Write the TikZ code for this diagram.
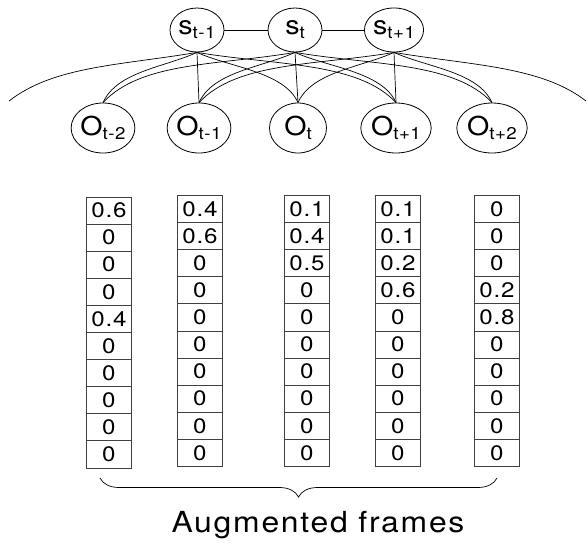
\documentclass[tikz,border=0pt]{standalone}
\usepackage{fontspec}
\usetikzlibrary{shapes.geometric,decorations.pathreplacing}
\newfontfamily\hvf[FakeStretch=1.1,LetterSpace=3]{TeX Gyre Heros}
\newfontfamily\cellfont[FakeStretch=1.15,LetterSpace=4]{TeX Gyre Heros}
\newfontfamily\augfont[FakeStretch=1.1,LetterSpace=6]{TeX Gyre Heros}
\newcommand{\nlab}[2]{{\fontsize{26}{26}\selectfont #1}\raisebox{-4pt}{\fontsize{17}{17}\selectfont #2}}
\begin{document}
\begin{tikzpicture}[x=1pt,y=-1pt,
  every node/.style={font=\hvf},
  snode/.style={draw, ellipse, line width=0.8pt, minimum width=54pt, minimum height=44pt, inner sep=0pt},
  onode/.style={draw, ellipse, line width=0.8pt, minimum width=57pt, minimum height=50pt, inner sep=0pt},
  link/.style={line width=0.7pt},
  cell/.style={draw=black!75, line width=0.9pt, rectangle, minimum width=45pt, minimum height=27.1pt, inner sep=0pt, anchor=north west, font={\cellfont\fontsize{21}{21}\selectfont}},
  ]
\useasboundingbox (0,0) rectangle (588,549);
% state nodes
\node[snode] (s1) at (197,30) {\nlab{s}{t-1}};
\node[snode] (s2) at (295,30) {\nlab{s}{t}};
\node[snode] (s3) at (394,30) {\nlab{s}{t+1}};
% observation nodes
\node[onode] (o1) at (103,128) {\nlab{O}{t-2}};
\node[onode] (o2) at (199,128) {\nlab{O}{t-1}};
\node[onode] (o3) at (298,128) {\nlab{O}{t}};
\node[onode] (o4) at (396,128) {\nlab{O}{t+1}};
\node[onode] (o5) at (492,128) {\nlab{O}{t+2}};
\coordinate (oL) at (9,101);
\coordinate (oR) at (586,101);
% chain
\draw[link] (s1.east) -- (s2.west);
\draw[link] (s2.east) -- (s3.west);
% straight links
\draw[link] (s1.south) -- (o2.north);
\draw[link] (s2.south) -- (o3.north);
\draw[link] (s3.south) -- (o4.north);
% distance one
\draw[link] (s1.south) .. controls +(-33,15) and +(14,-31) .. (o1.north);
\draw[link] (s2.south) .. controls +(-33,15) and +(14,-31) .. (o2.north);
\draw[link] (s3.south) .. controls +(-33,15) and +(14,-31) .. (o3.north);
\draw[link] (s1.south) .. controls +(33,15) and +(-14,-31) .. (o3.north);
\draw[link] (s2.south) .. controls +(33,15) and +(-14,-31) .. (o4.north);
\draw[link] (s3.south) .. controls +(33,15) and +(-14,-31) .. (o5.north);
% distance two
\draw[link] (s2.south) .. controls +(-77,13) and +(38,-41) .. (o1.north);
\draw[link] (s3.south) .. controls +(-77,13) and +(38,-41) .. (o2.north);
\draw[link] (s1.south) .. controls +(77,13) and +(-38,-41) .. (o4.north);
\draw[link] (s2.south) .. controls +(77,13) and +(-38,-41) .. (o5.north);
\draw[link] (s1.south) .. controls +(-77,13) and +(45,-35) .. (oL);
\draw[link] (s3.south) .. controls +(77,13) and +(-45,-35) .. (oR);
% frames
\foreach \c/\x/\t/\vals in {1/86/196.5/{0.6,0,0,0,0.4,0,0,0,0,0},
                            2/177/195/{0.4,0.6,0,0,0,0,0,0,0,0},
                            3/284/195/{0.1,0.4,0.5,0,0,0,0,0,0,0},
                            4/375/195/{0.1,0.1,0.2,0.6,0,0,0,0,0,0},
                            5/474/195/{0,0,0,0.2,0.8,0,0,0,0,0}}{
  \foreach \v [count=\r] in \vals {
    \node[cell] (c\c-\r) at (\x,{\t+(\r-1)*27.1}) {\v};
  }
}
% brace
\coordinate (bl) at (100,478);
\coordinate (br) at (497,478);
\draw[line width=0.7pt, decorate, decoration={brace, amplitude=19pt}] (br) -- (bl);
\node[anchor=base, font={\augfont\fontsize{29}{29}\selectfont}] (cap) at (318,532) {Augmented frames};
\end{tikzpicture}
\end{document}
